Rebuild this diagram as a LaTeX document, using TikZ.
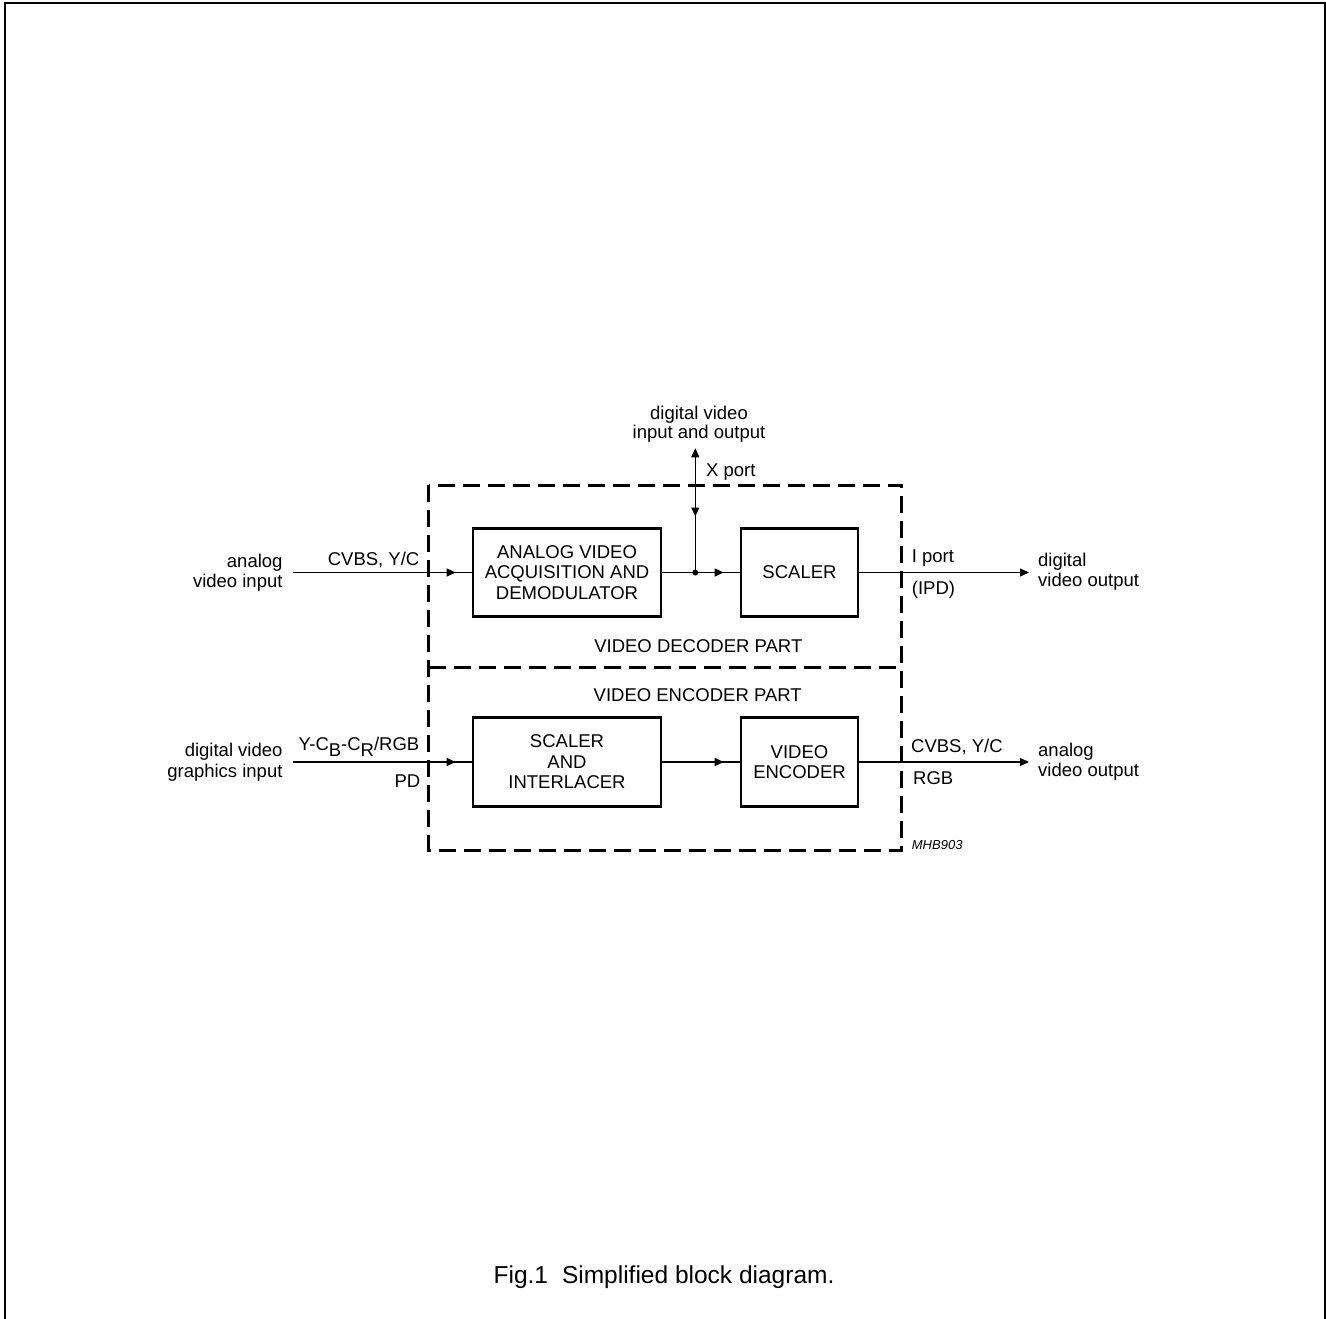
\documentclass[tikz,border=0pt]{standalone}
\usepackage{fontspec}
\setmainfont{Liberation Sans}
\usetikzlibrary{arrows.meta,decorations.markings}
\newcommand{\dfont}{\fontsize{18.5}{20.6}\selectfont}
\begin{document}
\begin{tikzpicture}[x=1pt,y=-1pt,
  >={Triangle[length=9pt,width=8pt]},
  blk/.style={draw, line width=2.6pt, align=center, inner sep=0pt, font=\dfont},
  lbl/.style={inner sep=0pt, font=\dfont},
  conn/.style={line width=1.3pt},
  midarrow/.style={postaction={decorate, decoration={markings, mark=at position #1 with {\arrow{>}}}}},
  midarrow/.default=-16pt,
  dbox/.style={line width=3pt, dash pattern=on 17pt off 8pt},
  frame/.style={line width=2pt}]
\useasboundingbox (0,0) rectangle (1326,1319);
% page frame (open at the bottom)
\draw[frame] (4.5,1319) -- (4.5,3) -- (1325,3) -- (1325,1319);

% dashed part boxes
\draw[dbox] (428.5,485) rectangle (901.5,850);
\draw[dbox] (428.5,667.5) -- (901.5,667.5);

% blocks
\node[blk, minimum width=188pt, minimum height=88pt] (avad) at (567,572.5) {ANALOG VIDEO\\ACQUISITION AND\\DEMODULATOR};
\node[blk, minimum width=117pt, minimum height=88pt] (scl) at (799.5,572.5) {SCALER};
\node[blk, minimum width=188pt, minimum height=88.5pt] (sai) at (567,762) {SCALER\\AND\\INTERLACER};
\node[blk, minimum width=117pt, minimum height=88.5pt] (venc) at (799.5,762) {VIDEO\\ENCODER};

% coordinates
\coordinate (ain) at (293.3,572.5);
\coordinate (din) at (293.3,762);
\coordinate (jn) at (695.3,572.5);
\coordinate (xtop) at (695.3,448.3);
\coordinate (dout) at (1029,572.5);
\coordinate (aout) at (1029,762);

% connectors
\draw[conn, midarrow] (ain) -- (avad.west);
\draw[conn] (avad.east) -- (jn);
\draw[conn, midarrow] (jn) -- (scl.west);
\draw[conn, <-, midarrow=-56pt] (xtop) -- (jn);
\fill (jn) circle (3pt);
\draw[conn, ->] (scl.east) -- (dout);
\draw[conn, midarrow] (din) -- (sai.west);
\draw[conn, midarrow] (sai.east) -- (venc.west);
\draw[conn, ->] (venc.east) -- (aout);

% labels
\node[lbl, anchor=base east] (l1) at (282.7,567) {analog};
\node[lbl, anchor=base east] (l2) at (282.7,587) {video input};
\node[lbl, anchor=base east] (l3) at (419.5,565) {CVBS, Y/C};
\node[lbl, anchor=base] (l4) at (699,419.3) {digital video};
\node[lbl, anchor=base] (l5) at (699,438.5) {input and output};
\node[lbl, anchor=base west] (l6) at (706,476) {X port};
\node[lbl, anchor=base west] (l7) at (911.7,562.7) {I port};
\node[lbl, anchor=base west] (l8) at (911.7,594) {(IPD)};
\node[lbl, anchor=base west] (l9) at (1038,566.7) {digital};
\node[lbl, anchor=base west] (l10) at (1038,586.7) {video output};
\node[lbl, anchor=base] (l11) at (698.3,652.3) {VIDEO DECODER PART};
\node[lbl, anchor=base] (l12) at (697.7,701) {VIDEO ENCODER PART};
\node[lbl, anchor=base east] (l13) at (282.7,756.7) {digital video};
\node[lbl, anchor=base east] (l14) at (282.7,777.3) {graphics input};
\node[lbl, anchor=base east] (l15) at (419.5,750) {Y-C\raisebox{-6pt}{B}-C\raisebox{-6pt}{R}/RGB};
\node[lbl, anchor=base east] (l16) at (420.5,787.3) {PD};
\node[lbl, anchor=base west] (l17) at (911,752.3) {CVBS, Y/C};
\node[lbl, anchor=base west] (l18) at (913,784.3) {RGB};
\node[lbl, anchor=base west] (l19) at (1038,756) {analog};
\node[lbl, anchor=base west] (l20) at (1038,776.7) {video output};
\node[inner sep=0pt, anchor=base west, font=\fontsize{13}{15}\selectfont\itshape] (code) at (911.7,849.3) {MHB903};
\node[inner sep=0pt, anchor=base, font=\fontsize{24.5}{28}\selectfont] (cap) at (664,1283) {Fig.1\hspace{14pt}Simplified block diagram.};
\end{tikzpicture}
\end{document}
